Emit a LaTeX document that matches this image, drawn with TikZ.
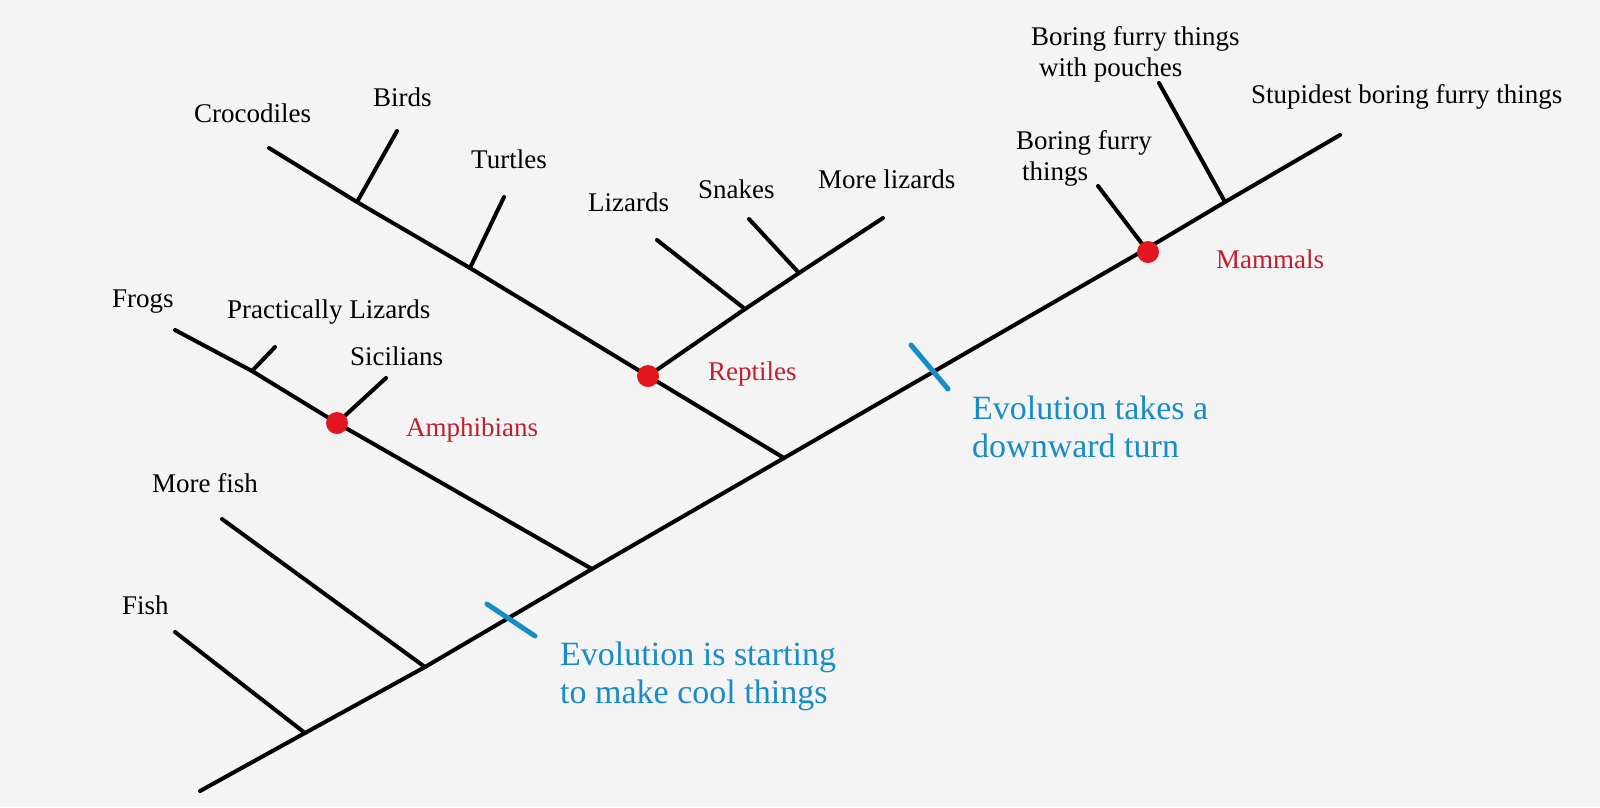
\documentclass[tikz,border=0pt]{standalone}
\usepackage{fontspec}
\setmainfont{Liberation Serif}
\definecolor{bg}{RGB}{244,244,244}
\definecolor{dotred}{RGB}{226,22,32}
\definecolor{txtred}{RGB}{196,30,46}
\definecolor{evoblue}{RGB}{22,140,200}
\begin{document}
\begin{tikzpicture}[x=1pt,y=-1pt,
  branch/.style={line width=4pt,line cap=round,black},
  tick/.style={line width=5pt,line cap=round,evoblue},
  cladedot/.style={circle,fill=dotred,inner sep=0pt,minimum size=22pt},
  lbl/.style={anchor=base west,inner sep=0pt,font=\fontsize{27}{31}\selectfont,align=left},
  grp/.style={lbl,text=txtred},
  evo/.style={anchor=base west,inner sep=0pt,font=\fontsize{34}{38}\selectfont,align=left,text=evoblue}]
\fill[bg] (0,0) rectangle (1600,807);
\useasboundingbox (0,0) rectangle (1600,807);
% backbone coordinates
\coordinate (root) at (200,791);
\coordinate (jFish) at (305,733);
\coordinate (jMfish) at (425,667);
\coordinate (jAmph) at (592,569);
\coordinate (jRept) at (784,458);
\coordinate (jPouch) at (1225,202);
\coordinate (tipStup) at (1340,135);
% tips
\coordinate (tipFish) at (175,632);
\coordinate (tipMfish) at (222,519);
\coordinate (tipFrog) at (175,330);
\coordinate (jPL) at (252,371);
\coordinate (tipPL) at (275,347);
\coordinate (tipSic) at (386,378);
\coordinate (tipCroc) at (269,148);
\coordinate (jBird) at (357,202);
\coordinate (tipBird) at (397,131);
\coordinate (jTurt) at (470,268);
\coordinate (tipTurt) at (504,197);
\coordinate (jLiz) at (745,309);
\coordinate (tipLiz) at (657,240);
\coordinate (jSnake) at (799,273);
\coordinate (tipSnake) at (749,219);
\coordinate (tipMliz) at (883,218);
\coordinate (tipBFT) at (1098,186);
\coordinate (tipPouch) at (1159,83);
\coordinate (mamPt) at (1146,249);
\coordinate (amphPt) at (337,423);
\coordinate (reptPt) at (648,376);
% ticks
\coordinate (t1a) at (487,604);
\coordinate (t1b) at (535,636);
\coordinate (t2a) at (911,345);
\coordinate (t2b) at (948,389);
% branches
\draw[branch] (root) -- (jFish) -- (jMfish) -- (jAmph) -- (jRept) -- (mamPt) -- (jPouch) -- (tipStup);
\draw[branch] (jFish) -- (tipFish);
\draw[branch] (jMfish) -- (tipMfish);
\draw[branch] (jAmph) -- (amphPt) -- (jPL) -- (tipFrog);
\draw[branch] (jPL) -- (tipPL);
\draw[branch] (amphPt) -- (tipSic);
\draw[branch] (jRept) -- (reptPt) -- (jTurt) -- (jBird) -- (tipCroc);
\draw[branch] (jBird) -- (tipBird);
\draw[branch] (jTurt) -- (tipTurt);
\draw[branch] (reptPt) -- (jLiz) -- (jSnake) -- (tipMliz);
\draw[branch] (jLiz) -- (tipLiz);
\draw[branch] (jSnake) -- (tipSnake);
\draw[branch] (mamPt) -- (tipBFT);
\draw[branch] (jPouch) -- (tipPouch);
\draw[tick] (t1a) -- (t1b);
\draw[tick] (t2a) -- (t2b);
% clade dots
\node[cladedot] (amphDot) at (337,423) {};
\node[cladedot] (reptDot) at (648,376) {};
\node[cladedot] (mamDot) at (1148,252) {};
% labels
\node[lbl] (lCroc) at (194,122) {Crocodiles};
\node[lbl] (lBird) at (373,106) {Birds};
\node[lbl] (lTurt) at (471,168) {Turtles};
\node[lbl] (lLiz) at (588,211) {Lizards};
\node[lbl] (lSnake) at (698,198) {Snakes};
\node[lbl] (lMliz) at (818,188) {More lizards};
\node[lbl] (lFrog) at (112,307) {Frogs};
\node[lbl] (lPL) at (227,318) {Practically Lizards};
\node[lbl] (lSic) at (350,365) {Sicilians};
\node[lbl] (lMfish) at (152,492) {More fish};
\node[lbl] (lFish) at (122,614) {Fish};
\node[lbl] (lPouch) at (1031,76) {Boring furry things\\\hspace*{8pt}with pouches};
\node[lbl] (lBFT) at (1016,180) {Boring furry\\\hspace*{6pt}things};
\node[lbl] (lStup) at (1251,103) {Stupidest boring furry things};
\node[grp] (gRept) at (708,380) {Reptiles};
\node[grp] (gAmph) at (406,436) {Amphibians};
\node[grp] (gMam) at (1216,268) {Mammals};
\node[evo] (eCool) at (560,703) {Evolution is starting\\to make cool things};
\node[evo] (eDown) at (972,457) {Evolution takes a\\downward turn};
\end{tikzpicture}
\end{document}
